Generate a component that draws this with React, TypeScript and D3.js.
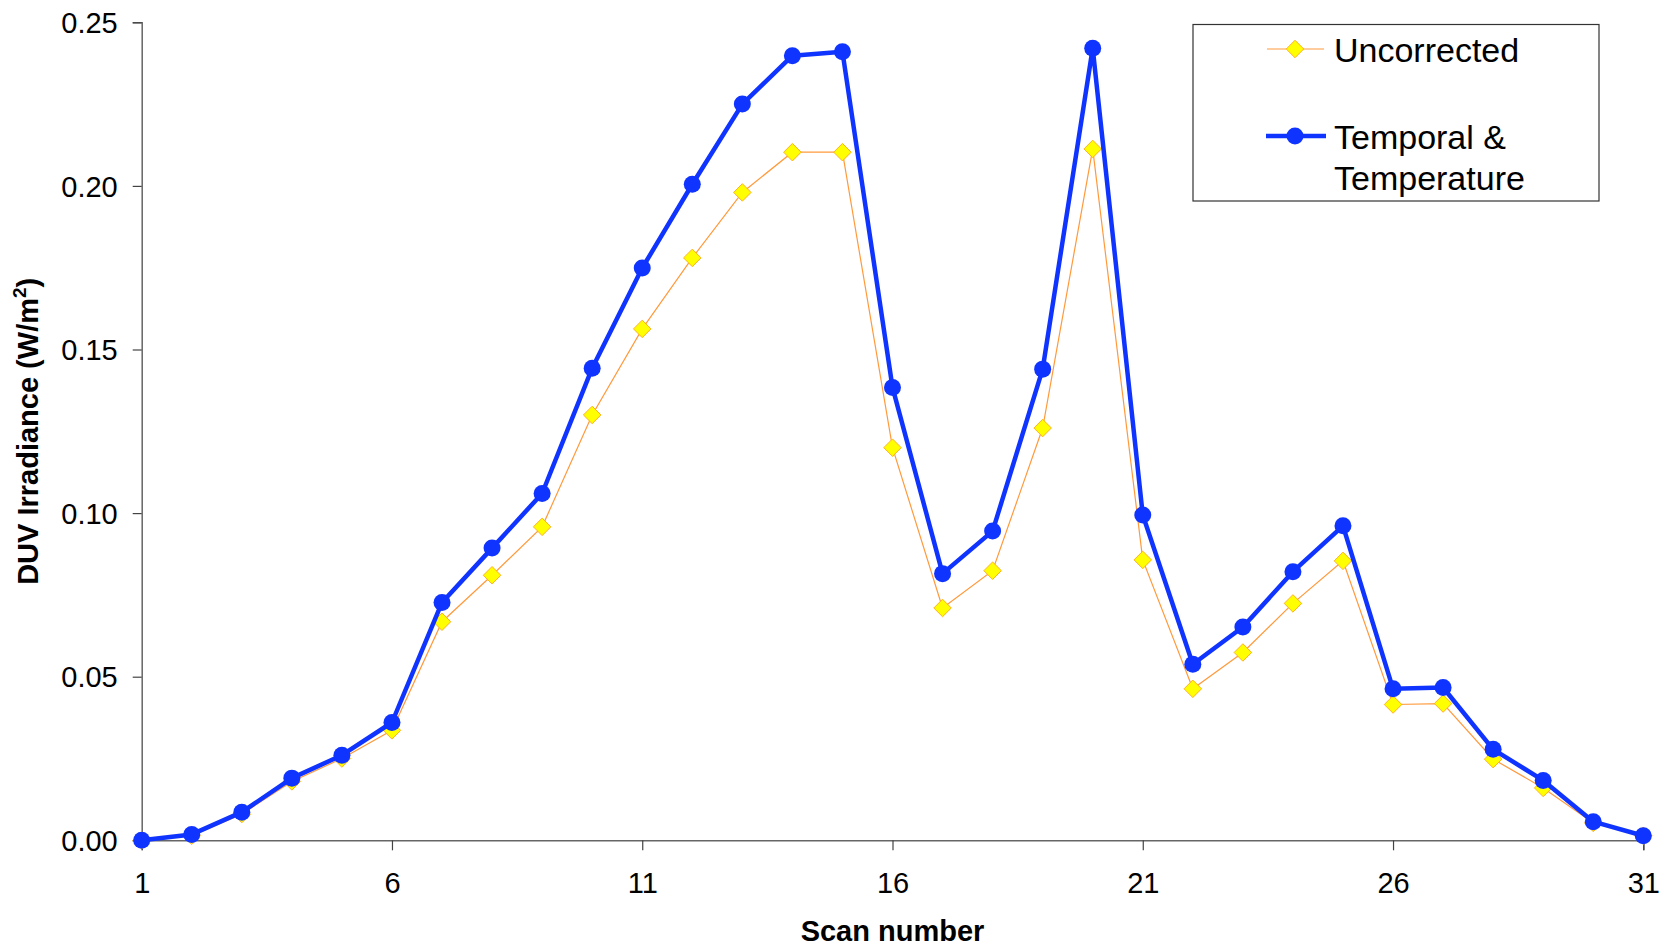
import * as d3 from "d3";
import { useEffect, useRef } from "react";

// scan numbers 1..31
const scans = [
  1, 2, 3, 4, 5, 6, 7, 8, 9, 10, 11, 12, 13, 14, 15, 16,
  17, 18, 19, 20, 21, 22, 23, 24, 25, 26, 27, 28, 29, 30, 31,
];

const uncorrected = [
  0.0, 0.0014, 0.008, 0.018, 0.025, 0.0336, 0.0668, 0.081, 0.0958, 0.13,
  0.1563, 0.178, 0.198, 0.2103, 0.2103, 0.12, 0.071, 0.0824, 0.126, 0.2113,
  0.0857, 0.0463, 0.0574, 0.0724, 0.0854, 0.0415, 0.0418, 0.0248, 0.016,
  0.0053, 0.0014,
];

const corrected = [
  0.0, 0.0018, 0.0086, 0.019, 0.026, 0.036, 0.0727, 0.0893, 0.106, 0.1443,
  0.1749, 0.2005, 0.225, 0.2398, 0.241, 0.1384, 0.0815, 0.0945, 0.144, 0.2421,
  0.0994, 0.0538, 0.0652, 0.0821, 0.0961, 0.0463, 0.0467, 0.0278, 0.0183,
  0.0057, 0.0014,
];

const yTicks = [0, 0.05, 0.1, 0.15, 0.2, 0.25];
const xTicks = [1, 6, 11, 16, 21, 26, 31];

const W = 1669;
const H = 948;
const FONT = "Liberation Sans, Arial, sans-serif";
const BLUE = "#1034ff";
const ORANGE = "#ff9a3c";

const App = () => {
  const ref = useRef<SVGSVGElement>(null);

  useEffect(() => {
    document.body.style.margin = "0";
    const svg = d3.select(ref.current);
    svg.selectAll("*").remove();

    const x = d3.scaleLinear().domain([1, 31]).range([141.7, 1643.3]);
    const y = d3.scaleLinear().domain([0, 0.25]).range([840.3, 22.3]);

    // оси
    const gy = svg.append("g").attr("transform", `translate(${x(1)},0)`)
      .call(d3.axisLeft(y).tickValues(yTicks).tickFormat(d3.format(".2f")).tickSize(9).tickPadding(15));
    gy.select(".domain").attr("stroke", "#666").attr("stroke-width", 1.5);
    gy.selectAll(".tick line").attr("stroke", "#444").attr("stroke-width", 1.2);
    gy.selectAll("text").attr("font-family", FONT).attr("font-size", 29).attr("fill", "#000").attr("dy", "0.35em");

    const gx = svg.append("g").attr("transform", `translate(0,${y(0)})`)
      .call(d3.axisBottom(x).tickValues(xTicks).tickFormat(d3.format("d")).tickSize(10).tickPadding(22));
    gx.select(".domain").attr("stroke", "#666").attr("stroke-width", 1.5);
    gx.selectAll(".tick line").attr("stroke", "#444").attr("stroke-width", 1.2);
    gx.selectAll("text").attr("font-family", FONT).attr("font-size", 29).attr("fill", "#000");

    // заголовки осей
    svg.append("text")
      .attr("x", (x(1) + x(31)) / 2).attr("y", 941)
      .attr("text-anchor", "middle").attr("font-family", FONT)
      .attr("font-weight", "bold").attr("font-size", 29)
      .text("Scan number");

    const yt = svg.append("text")
      .attr("transform", `translate(38,${(y(0) + y(0.25)) / 2}) rotate(-90)`)
      .attr("text-anchor", "middle").attr("font-family", FONT)
      .attr("font-weight", "bold").attr("font-size", 29);
    yt.append("tspan").text("DUV Irradiance (W/m");
    yt.append("tspan").attr("font-size", 19).attr("dy", -12).text("2");
    yt.append("tspan").attr("dy", 12).text(")");

    const line = d3.line<number>().x((_, i) => x(scans[i])).y((d) => y(d));

    // Uncorrected
    svg.append("path").datum(uncorrected)
      .attr("d", line).attr("fill", "none")
      .attr("stroke", ORANGE).attr("stroke-width", 1.2);
    const diamond = d3.symbol().type(d3.symbolDiamond2).size(195);
    svg.selectAll(".dia").data(uncorrected).enter().append("path")
      .attr("class", "dia")
      .attr("transform", (d, i) => `translate(${x(scans[i])},${y(d)})`)
      .attr("d", diamond())
      .attr("fill", "#ffff00").attr("stroke", "#ffb020").attr("stroke-width", 1);

    // Temporal & Temperature
    svg.append("path").datum(corrected)
      .attr("d", line).attr("fill", "none")
      .attr("stroke", BLUE).attr("stroke-width", 4.5).attr("stroke-linejoin", "round");
    svg.selectAll(".dot").data(corrected).enter().append("circle")
      .attr("class", "dot")
      .attr("cx", (_, i) => x(scans[i])).attr("cy", (d) => y(d))
      .attr("r", 8.5).attr("fill", BLUE);

    // легенда
    const lg = svg.append("g");
    lg.append("rect").attr("x", 1193).attr("y", 24.5).attr("width", 406).attr("height", 176.5)
      .attr("fill", "#fff").attr("stroke", "#333").attr("stroke-width", 1.2);
    lg.append("line").attr("x1", 1267).attr("x2", 1324).attr("y1", 49).attr("y2", 49)
      .attr("stroke", ORANGE).attr("stroke-width", 1.2);
    lg.append("path").attr("transform", "translate(1295,49)").attr("d", diamond())
      .attr("fill", "#ffff00").attr("stroke", "#ffb020");
    lg.append("text").attr("x", 1334).attr("y", 62).attr("font-family", FONT)
      .attr("font-size", 34).text("Uncorrected");
    lg.append("line").attr("x1", 1266).attr("x2", 1326).attr("y1", 136).attr("y2", 136)
      .attr("stroke", BLUE).attr("stroke-width", 4.5);
    lg.append("circle").attr("cx", 1295).attr("cy", 136).attr("r", 8.5).attr("fill", BLUE);
    lg.append("text").attr("x", 1334).attr("y", 149).attr("font-family", FONT)
      .attr("font-size", 34).text("Temporal &");
    lg.append("text").attr("x", 1334).attr("y", 190).attr("font-family", FONT)
      .attr("font-size", 34).text("Temperature");
  }, []);

  return <svg ref={ref} width={W} height={H} style={{ display: "block", background: "#fff" }}></svg>;
};

export default App;
